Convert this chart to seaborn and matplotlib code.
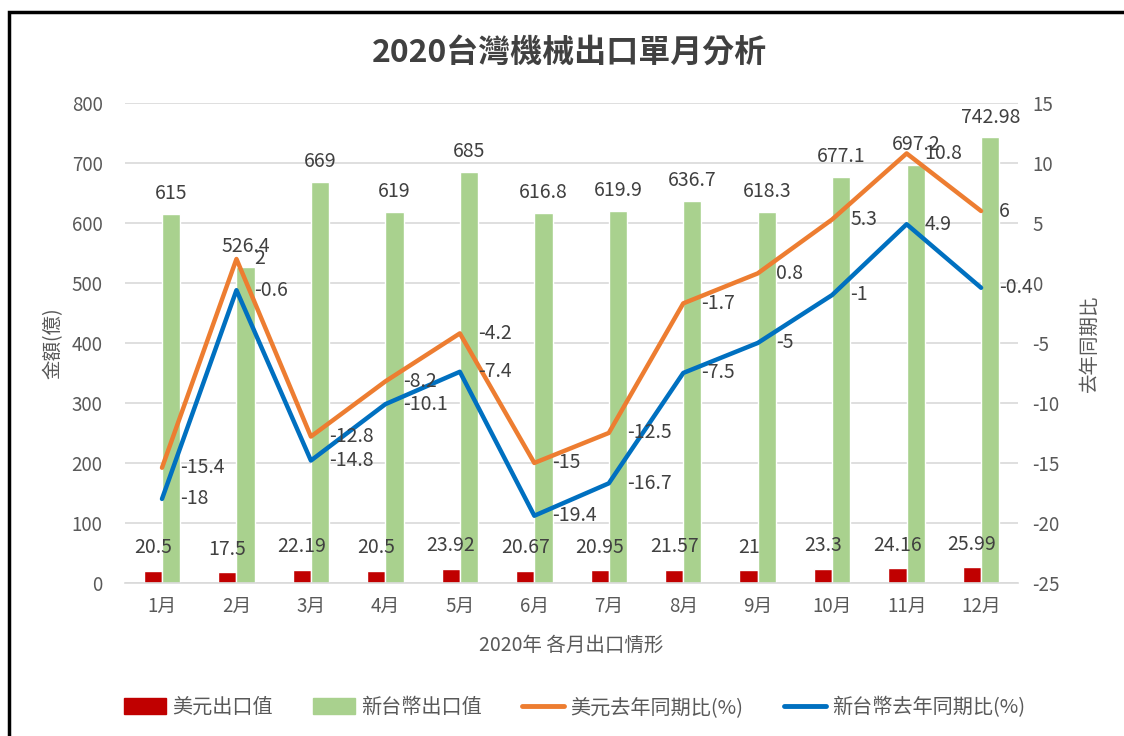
import numpy as np
import pandas as pd
import matplotlib
matplotlib.use("Agg")
import matplotlib.pyplot as plt
import matplotlib.patches as mpatches
import matplotlib.lines as mlines
import seaborn as sns

# =============================================================================
# DATA
# =============================================================================
months = ["1月", "2月", "3月", "4月", "5月", "6月", "7月", "8月", "9月", "10月", "11月", "12月"]
usd_export = [20.5, 17.5, 22.19, 20.5, 23.92, 20.67, 20.95, 21.57, 21, 23.3, 24.16, 25.99]
ntd_export = [615, 526.4, 669, 619, 685, 616.8, 619.9, 636.7, 618.3, 677.1, 697.2, 742.98]
usd_yoy = [-15.4, 2, -12.8, -8.2, -4.2, -15, -12.5, -1.7, 0.8, 5.3, 10.8, 6]
ntd_yoy = [-18, -0.6, -14.8, -10.1, -7.4, -19.4, -16.7, -7.5, -5, -1, 4.9, -0.4]

bar_names = ["美元出口值", "新台幣出口值"]
line_names = ["美元去年同期比(%)", "新台幣去年同期比(%)"]

RED, GREEN, ORANGE, BLUE = "#C00000", "#A9D18E", "#ED7D31", "#0070C0"
TXT = "#595959"
LBL = "#404040"

sns.set_theme(style="white")
plt.rcParams["font.family"] = ["Noto Sans CJK TC", "DejaVu Sans"]
plt.rcParams["axes.unicode_minus"] = False

bars = pd.DataFrame({
    "month": months * 2,
    "value": usd_export + ntd_export,
    "series": [bar_names[0]] * 12 + [bar_names[1]] * 12,
})

fig = plt.figure(figsize=(11.24, 7.36), dpi=100)
ax = fig.add_axes([0.111, 0.208, 0.795, 0.652])

sns.barplot(data=bars, x="month", y="value", hue="series", order=months,
            hue_order=bar_names, palette=[RED, GREEN], width=0.49, gap=0,
            ax=ax, legend=False, saturation=1)

ax.set_ylim(0, 800)
ax.set_yticks(range(0, 801, 100))
ax.set_xlim(-0.5, 11.5)
ax.grid(axis="y", color="#D9D9D9", linewidth=1.2)
ax.set_axisbelow(True)
for s in ["left", "right", "top"]:
    ax.spines[s].set_visible(False)
ax.spines["bottom"].set_color("#D9D9D9")
ax.spines["bottom"].set_linewidth(1.2)
ax.tick_params(axis="y", colors=TXT, labelsize=13.5, length=0, pad=16)
ax.tick_params(axis="x", colors=TXT, labelsize=13.5, length=0, pad=9)
ax.set_xlabel("2020年 各月出口情形", color=TXT, fontsize=14, labelpad=13)
ax.set_ylabel("金額(億)", color=TXT, fontsize=14, labelpad=6)

# bar labels
x = np.arange(len(months))
for i in range(len(months)):
    ax.annotate(f"{usd_export[i]:g}", (x[i] - 0.1225, usd_export[i]),
                xytext=(0, 9), textcoords="offset points", ha="center",
                va="bottom", fontsize=14, color=LBL)
    ax.annotate(f"{ntd_export[i]:g}", (x[i] + 0.1225, ntd_export[i]),
                xytext=(0, 7), textcoords="offset points", ha="center",
                va="bottom", fontsize=14, color=LBL)

# lines on secondary axis
ax2 = ax.twinx()
lines = pd.DataFrame({
    "pos": list(x) * 2,
    "value": usd_yoy + ntd_yoy,
    "series": [line_names[0]] * 12 + [line_names[1]] * 12,
})
sns.lineplot(data=lines, x="pos", y="value", hue="series", hue_order=line_names,
             palette=[ORANGE, BLUE], linewidth=3.2, sort=False, ax=ax2, legend=False)
ax2.set_ylim(-25, 15)
ax2.set_yticks(range(-25, 16, 5))
ax2.set_xlim(-0.5, 11.5)
for s in ["left", "right", "top", "bottom"]:
    ax2.spines[s].set_visible(False)
ax2.tick_params(axis="y", colors=TXT, labelsize=13.5, length=0, pad=10)
ax2.set_ylabel("去年同期比", color=TXT, fontsize=14, labelpad=14)
ax2.set_xlabel("")

for i in range(len(months)):
    ax2.annotate(f"{usd_yoy[i]:g}", (x[i], usd_yoy[i]), xytext=(13, 0),
                 textcoords="offset points", ha="left", va="center",
                 fontsize=14, color=LBL)
    ax2.annotate(f"{ntd_yoy[i]:g}", (x[i], ntd_yoy[i]), xytext=(13, 0),
                 textcoords="offset points", ha="left", va="center",
                 fontsize=14, color=LBL)

fig.text(0.507, 0.929, "2020台灣機械出口單月分析", ha="center", va="center",
         fontsize=23, fontweight="bold", color=LBL)

handles = [
    mpatches.Patch(color=RED, label=bar_names[0]),
    mpatches.Patch(color=GREEN, label=bar_names[1]),
    mlines.Line2D([], [], color=ORANGE, linewidth=3.5, label=line_names[0]),
    mlines.Line2D([], [], color=BLUE, linewidth=3.5, label=line_names[1]),
]
leg = fig.legend(handles=handles, loc="center", bbox_to_anchor=(0.511, 0.039), ncol=4,
                 frameon=False, fontsize=14.5, handlelength=2.1, handleheight=0.8,
                 columnspacing=2.0, handletextpad=0.3)
for t in leg.get_texts():
    t.set_color(TXT)

# outer frame
fig.patches.append(mpatches.Rectangle((0.008, -0.05), 1.1, 1.034, transform=fig.transFigure,
                                      fill=False, edgecolor="black", linewidth=2.5))

fig.savefig("out.png", dpi=100)
